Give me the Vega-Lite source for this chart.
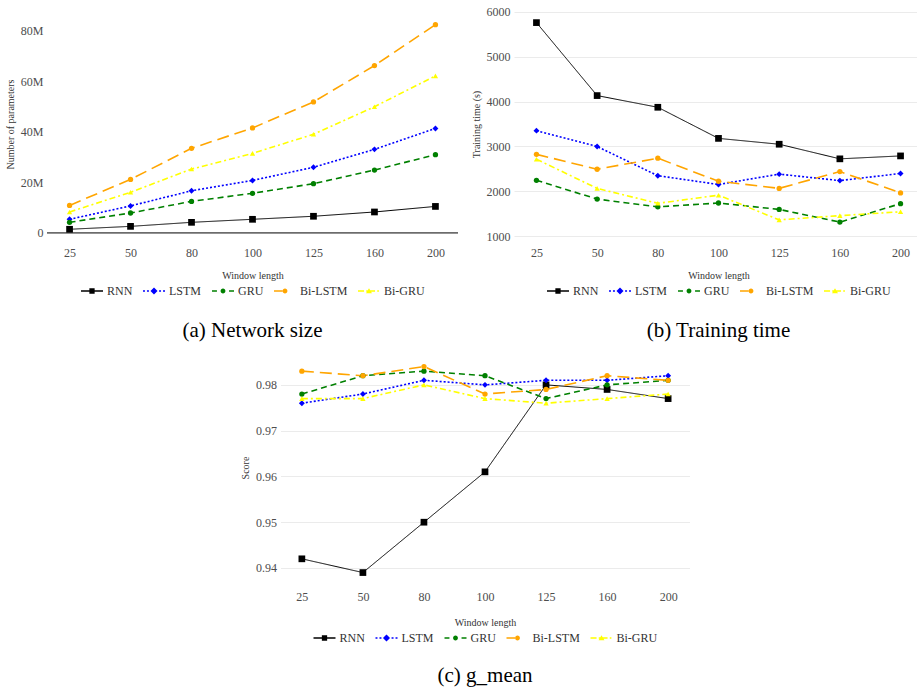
{
"$schema": "https://vega.github.io/schema/vega-lite/v6.json",
"background": "white",
"padding": 5,
"datasets": {
"size": [
{"w":25,"m":"RNN","v":1450000},{"w":50,"m":"RNN","v":2600000},{"w":80,"m":"RNN","v":4200000},{"w":100,"m":"RNN","v":5400000},{"w":125,"m":"RNN","v":6600000},{"w":160,"m":"RNN","v":8300000},{"w":200,"m":"RNN","v":10500000},
{"w":25,"m":"LSTM","v":5400000},{"w":50,"m":"LSTM","v":10700000},{"w":80,"m":"LSTM","v":16700000},{"w":100,"m":"LSTM","v":20800000},{"w":125,"m":"LSTM","v":26000000},{"w":160,"m":"LSTM","v":33100000},{"w":200,"m":"LSTM","v":41400000},
{"w":25,"m":"GRU","v":4200000},{"w":50,"m":"GRU","v":7900000},{"w":80,"m":"GRU","v":12500000},{"w":100,"m":"GRU","v":15700000},{"w":125,"m":"GRU","v":19500000},{"w":160,"m":"GRU","v":24900000},{"w":200,"m":"GRU","v":31000000},
{"w":25,"m":"Bi-LSTM","v":10900000},{"w":50,"m":"Bi-LSTM","v":21200000},{"w":80,"m":"Bi-LSTM","v":33500000},{"w":100,"m":"Bi-LSTM","v":41600000},{"w":125,"m":"Bi-LSTM","v":51900000},{"w":160,"m":"Bi-LSTM","v":66300000},{"w":200,"m":"Bi-LSTM","v":82500000},
{"w":25,"m":"Bi-GRU","v":8300000},{"w":50,"m":"Bi-GRU","v":16100000},{"w":80,"m":"Bi-GRU","v":25300000},{"w":100,"m":"Bi-GRU","v":31500000},{"w":125,"m":"Bi-GRU","v":39100000},{"w":160,"m":"Bi-GRU","v":50000000},{"w":200,"m":"Bi-GRU","v":62200000}
],
"time": [
{"w":25,"m":"RNN","v":5755},{"w":50,"m":"RNN","v":4132},{"w":80,"m":"RNN","v":3872},{"w":100,"m":"RNN","v":3180},{"w":125,"m":"RNN","v":3050},{"w":160,"m":"RNN","v":2725},{"w":200,"m":"RNN","v":2790},
{"w":25,"m":"LSTM","v":3352},{"w":50,"m":"LSTM","v":2999},{"w":80,"m":"LSTM","v":2350},{"w":100,"m":"LSTM","v":2155},{"w":125,"m":"LSTM","v":2385},{"w":160,"m":"LSTM","v":2241},{"w":200,"m":"LSTM","v":2400},
{"w":25,"m":"GRU","v":2248},{"w":50,"m":"GRU","v":1830},{"w":80,"m":"GRU","v":1657},{"w":100,"m":"GRU","v":1743},{"w":125,"m":"GRU","v":1600},{"w":160,"m":"GRU","v":1318},{"w":200,"m":"GRU","v":1729},
{"w":25,"m":"Bi-LSTM","v":2825},{"w":50,"m":"Bi-LSTM","v":2494},{"w":80,"m":"Bi-LSTM","v":2739},{"w":100,"m":"Bi-LSTM","v":2227},{"w":125,"m":"Bi-LSTM","v":2068},{"w":160,"m":"Bi-LSTM","v":2443},{"w":200,"m":"Bi-LSTM","v":1967},
{"w":25,"m":"Bi-GRU","v":2717},{"w":50,"m":"Bi-GRU","v":2068},{"w":80,"m":"Bi-GRU","v":1736},{"w":100,"m":"Bi-GRU","v":1916},{"w":125,"m":"Bi-GRU","v":1368},{"w":160,"m":"Bi-GRU","v":1462},{"w":200,"m":"Bi-GRU","v":1548}
],
"gmean": [
{"w":25,"m":"RNN","v":0.942},{"w":50,"m":"RNN","v":0.939},{"w":80,"m":"RNN","v":0.950},{"w":100,"m":"RNN","v":0.961},{"w":125,"m":"RNN","v":0.980},{"w":160,"m":"RNN","v":0.979},{"w":200,"m":"RNN","v":0.977},
{"w":25,"m":"LSTM","v":0.976},{"w":50,"m":"LSTM","v":0.978},{"w":80,"m":"LSTM","v":0.981},{"w":100,"m":"LSTM","v":0.980},{"w":125,"m":"LSTM","v":0.981},{"w":160,"m":"LSTM","v":0.981},{"w":200,"m":"LSTM","v":0.982},
{"w":25,"m":"GRU","v":0.978},{"w":50,"m":"GRU","v":0.982},{"w":80,"m":"GRU","v":0.983},{"w":100,"m":"GRU","v":0.982},{"w":125,"m":"GRU","v":0.977},{"w":160,"m":"GRU","v":0.980},{"w":200,"m":"GRU","v":0.981},
{"w":25,"m":"Bi-LSTM","v":0.983},{"w":50,"m":"Bi-LSTM","v":0.982},{"w":80,"m":"Bi-LSTM","v":0.984},{"w":100,"m":"Bi-LSTM","v":0.978},{"w":125,"m":"Bi-LSTM","v":0.979},{"w":160,"m":"Bi-LSTM","v":0.982},{"w":200,"m":"Bi-LSTM","v":0.981},
{"w":25,"m":"Bi-GRU","v":0.977},{"w":50,"m":"Bi-GRU","v":0.977},{"w":80,"m":"Bi-GRU","v":0.980},{"w":100,"m":"Bi-GRU","v":0.977},{"w":125,"m":"Bi-GRU","v":0.976},{"w":160,"m":"Bi-GRU","v":0.977},{"w":200,"m":"Bi-GRU","v":0.978}
]
},
"center": true,
"spacing": 10,
"resolve": {"scale": {"color": "independent", "strokeDash": "independent"}, "legend": {"color": "independent"}},
"vconcat": [
{
"spacing": 12,
"resolve": {"scale": {"color": "independent", "strokeDash": "independent"}, "legend": {"color": "independent"}},
"hconcat": [
{
"width": 411, "height": 232,
"title": {"text": "(a) Network size", "orient": "bottom", "fontSize": 21, "fontWeight": "normal", "color": "black", "offset": 23, "anchor": "middle"},
"data": {"name": "size"},
"layer": [
{"data": {"values": [{}]}, "mark": {"type": "rule", "color": "black", "strokeWidth": 1}, "encoding": {"y": {"datum": 0, "type": "quantitative"}}},
{"mark": {"type": "line"},
 "encoding": {
  "x": {"field": "w", "type": "ordinal", "scale": {"type": "point", "padding": 0.37}, "axis": {"title": "Window length"}},
  "y": {"field": "v", "type": "quantitative", "scale": {"domain": [-2800000, 89100000], "nice": false, "zero": false}, "axis": {"title": "Number of parameters", "values": [0, 20000000, 40000000, 60000000, 80000000], "labelExpr": "datum.value==0?'0':(datum.value/1000000)+'M'"}},
  "color": {"field": "m", "type": "nominal", "scale": {"domain": ["RNN","LSTM","GRU","Bi-LSTM","Bi-GRU"], "range": ["black","blue","green","orange","yellow"]},
   "legend": {"title": null, "orient": "bottom", "direction": "horizontal", "symbolSize": 484, "labelFontSize": 12, "columnPadding": 10, "offset": 0,
    "encode": {"symbols": {"update": {
     "shape": {"signal": "datum.value==='RNN'?'M-1,-0.07L1,-0.07L1,0.07L-1,0.07ZM-0.24,-0.24L0.24,-0.24L0.24,0.24L-0.24,0.24Z':datum.value==='LSTM'?'M-1,-0.07L-0.82,-0.07L-0.82,0.07L-1,0.07ZM-0.64,-0.07L-0.46,-0.07L-0.46,0.07L-0.64,0.07ZM0.46,-0.07L0.64,-0.07L0.64,0.07L0.46,0.07ZM0.82,-0.07L1,-0.07L1,0.07L0.82,0.07ZM0,-0.32L0.32,0L0,0.32L-0.32,0Z':datum.value==='GRU'?'M-1,-0.07L-0.55,-0.07L-0.55,0.07L-1,0.07ZM0.55,-0.07L1,-0.07L1,0.07L0.55,0.07ZM-0.22,0A0.22,0.22,0,1,0,0.22,0A0.22,0.22,0,1,0,-0.22,0Z':datum.value==='Bi-LSTM'?'M-1,-0.07L-0.2,-0.07L-0.2,0.07L-1,0.07ZM-0.22,0A0.22,0.22,0,1,0,0.22,0A0.22,0.22,0,1,0,-0.22,0Z':'M-1,-0.07L-0.45,-0.07L-0.45,0.07L-1,0.07ZM-0.25,-0.07L0.55,-0.07L0.55,0.07L-0.25,0.07ZM0.75,-0.07L0.9,-0.07L0.9,0.07L0.75,0.07ZM0,-0.26L0.27,0.2L-0.27,0.2Z'"},
     "fill": {"signal": "datum.value==='RNN'?'black':datum.value==='LSTM'?'blue':datum.value==='GRU'?'green':datum.value==='Bi-LSTM'?'orange':'yellow'"},
     "fillOpacity": {"value": 1},
     "strokeWidth": {"value": 0},
     "opacity": {"value": 1}}}}}},
  "strokeDash": {"field": "m", "type": "nominal", "scale": {"domain": ["RNN","LSTM","GRU","Bi-LSTM","Bi-GRU"], "range": [[1,0],[2,2],[6,4],[12,6],[6,3,2,3]]}, "legend": null},
  "strokeWidth": {"condition": {"test": "datum.m==='RNN'", "value": 1}, "value": 1.6}
 }},
{"mark": {"type": "point", "filled": true, "opacity": 1},
 "encoding": {
  "x": {"field": "w", "type": "ordinal"},
  "y": {"field": "v", "type": "quantitative"},
  "color": {"field": "m", "type": "nominal", "legend": null},
  "shape": {"condition": [{"test": "datum.m==='RNN'", "value": "square"}, {"test": "datum.m==='LSTM'", "value": "diamond"}, {"test": "datum.m==='Bi-GRU'", "value": "triangle-up"}], "value": "circle"},
  "size": {"condition": [{"test": "datum.m==='RNN'", "value": 45}, {"test": "datum.m==='LSTM'", "value": 35}], "value": 28}
 }}
]
},
{
"width": 409, "height": 232,
"title": {"text": "(b) Training time", "orient": "bottom", "fontSize": 21, "fontWeight": "normal", "color": "black", "offset": 23, "anchor": "middle"},
"data": {"name": "time"},
"layer": [
{"mark": {"type": "line"},
 "encoding": {
  "x": {"field": "w", "type": "ordinal", "scale": {"type": "point", "padding": 0.37}, "axis": {"title": "Window length"}},
  "y": {"field": "v", "type": "quantitative", "scale": {"domain": [920, 6080], "nice": false, "zero": false}, "axis": {"title": "Training time (s)", "values": [1000,2000,3000,4000,5000,6000], "format": "d"}},
  "color": {"field": "m", "type": "nominal", "scale": {"domain": ["RNN","LSTM","GRU","Bi-LSTM","Bi-GRU"], "range": ["black","blue","green","orange","yellow"]},
   "legend": {"title": null, "orient": "bottom", "direction": "horizontal", "symbolSize": 484, "labelFontSize": 12, "columnPadding": 10, "offset": 0,
    "encode": {"symbols": {"update": {
     "shape": {"signal": "datum.value==='RNN'?'M-1,-0.07L1,-0.07L1,0.07L-1,0.07ZM-0.24,-0.24L0.24,-0.24L0.24,0.24L-0.24,0.24Z':datum.value==='LSTM'?'M-1,-0.07L-0.82,-0.07L-0.82,0.07L-1,0.07ZM-0.64,-0.07L-0.46,-0.07L-0.46,0.07L-0.64,0.07ZM0.46,-0.07L0.64,-0.07L0.64,0.07L0.46,0.07ZM0.82,-0.07L1,-0.07L1,0.07L0.82,0.07ZM0,-0.32L0.32,0L0,0.32L-0.32,0Z':datum.value==='GRU'?'M-1,-0.07L-0.55,-0.07L-0.55,0.07L-1,0.07ZM0.55,-0.07L1,-0.07L1,0.07L0.55,0.07ZM-0.22,0A0.22,0.22,0,1,0,0.22,0A0.22,0.22,0,1,0,-0.22,0Z':datum.value==='Bi-LSTM'?'M-1,-0.07L-0.2,-0.07L-0.2,0.07L-1,0.07ZM-0.22,0A0.22,0.22,0,1,0,0.22,0A0.22,0.22,0,1,0,-0.22,0Z':'M-1,-0.07L-0.45,-0.07L-0.45,0.07L-1,0.07ZM-0.25,-0.07L0.55,-0.07L0.55,0.07L-0.25,0.07ZM0.75,-0.07L0.9,-0.07L0.9,0.07L0.75,0.07ZM0,-0.26L0.27,0.2L-0.27,0.2Z'"},
     "fill": {"signal": "datum.value==='RNN'?'black':datum.value==='LSTM'?'blue':datum.value==='GRU'?'green':datum.value==='Bi-LSTM'?'orange':'yellow'"},
     "fillOpacity": {"value": 1},
     "strokeWidth": {"value": 0},
     "opacity": {"value": 1}}}}}},
  "strokeDash": {"field": "m", "type": "nominal", "scale": {"domain": ["RNN","LSTM","GRU","Bi-LSTM","Bi-GRU"], "range": [[1,0],[2,2],[6,4],[12,6],[6,3,2,3]]}, "legend": null},
  "strokeWidth": {"condition": {"test": "datum.m==='RNN'", "value": 1}, "value": 1.6}
 }},
{"mark": {"type": "point", "filled": true, "opacity": 1},
 "encoding": {
  "x": {"field": "w", "type": "ordinal"},
  "y": {"field": "v", "type": "quantitative"},
  "color": {"field": "m", "type": "nominal", "legend": null},
  "shape": {"condition": [{"test": "datum.m==='RNN'", "value": "square"}, {"test": "datum.m==='LSTM'", "value": "diamond"}, {"test": "datum.m==='Bi-GRU'", "value": "triangle-up"}], "value": "circle"},
  "size": {"condition": [{"test": "datum.m==='RNN'", "value": 45}, {"test": "datum.m==='LSTM'", "value": 35}], "value": 28}
 }}
]
}
]
},
{
"width": 409, "height": 233,
"title": {"text": "(c) g_mean", "orient": "bottom", "fontSize": 21, "fontWeight": "normal", "color": "black", "offset": 21, "anchor": "middle"},
"data": {"name": "gmean"},
"layer": [
{"mark": {"type": "line"},
 "encoding": {
  "x": {"field": "w", "type": "ordinal", "scale": {"type": "point", "padding": 0.35}, "axis": {"title": "Window length", "titlePadding": 15}},
  "y": {"field": "v", "type": "quantitative", "scale": {"domain": [0.9365, 0.9874], "nice": false, "zero": false}, "axis": {"title": "Score", "values": [0.94,0.95,0.96,0.97,0.98], "format": ".2f"}},
  "color": {"field": "m", "type": "nominal", "scale": {"domain": ["RNN","LSTM","GRU","Bi-LSTM","Bi-GRU"], "range": ["black","blue","green","orange","yellow"]},
   "legend": {"title": null, "orient": "bottom", "direction": "horizontal", "symbolSize": 484, "labelFontSize": 12, "columnPadding": 10, "offset": 0,
    "encode": {"symbols": {"update": {
     "shape": {"signal": "datum.value==='RNN'?'M-1,-0.07L1,-0.07L1,0.07L-1,0.07ZM-0.24,-0.24L0.24,-0.24L0.24,0.24L-0.24,0.24Z':datum.value==='LSTM'?'M-1,-0.07L-0.82,-0.07L-0.82,0.07L-1,0.07ZM-0.64,-0.07L-0.46,-0.07L-0.46,0.07L-0.64,0.07ZM0.46,-0.07L0.64,-0.07L0.64,0.07L0.46,0.07ZM0.82,-0.07L1,-0.07L1,0.07L0.82,0.07ZM0,-0.32L0.32,0L0,0.32L-0.32,0Z':datum.value==='GRU'?'M-1,-0.07L-0.55,-0.07L-0.55,0.07L-1,0.07ZM0.55,-0.07L1,-0.07L1,0.07L0.55,0.07ZM-0.22,0A0.22,0.22,0,1,0,0.22,0A0.22,0.22,0,1,0,-0.22,0Z':datum.value==='Bi-LSTM'?'M-1,-0.07L-0.2,-0.07L-0.2,0.07L-1,0.07ZM-0.22,0A0.22,0.22,0,1,0,0.22,0A0.22,0.22,0,1,0,-0.22,0Z':'M-1,-0.07L-0.45,-0.07L-0.45,0.07L-1,0.07ZM-0.25,-0.07L0.55,-0.07L0.55,0.07L-0.25,0.07ZM0.75,-0.07L0.9,-0.07L0.9,0.07L0.75,0.07ZM0,-0.26L0.27,0.2L-0.27,0.2Z'"},
     "fill": {"signal": "datum.value==='RNN'?'black':datum.value==='LSTM'?'blue':datum.value==='GRU'?'green':datum.value==='Bi-LSTM'?'orange':'yellow'"},
     "fillOpacity": {"value": 1},
     "strokeWidth": {"value": 0},
     "opacity": {"value": 1}}}}}},
  "strokeDash": {"field": "m", "type": "nominal", "scale": {"domain": ["RNN","LSTM","GRU","Bi-LSTM","Bi-GRU"], "range": [[1,0],[2,2],[6,4],[12,6],[6,3,2,3]]}, "legend": null},
  "strokeWidth": {"condition": {"test": "datum.m==='RNN'", "value": 1}, "value": 1.6}
 }},
{"mark": {"type": "point", "filled": true, "opacity": 1},
 "encoding": {
  "x": {"field": "w", "type": "ordinal"},
  "y": {"field": "v", "type": "quantitative"},
  "color": {"field": "m", "type": "nominal", "legend": null},
  "shape": {"condition": [{"test": "datum.m==='RNN'", "value": "square"}, {"test": "datum.m==='LSTM'", "value": "diamond"}, {"test": "datum.m==='Bi-GRU'", "value": "triangle-up"}], "value": "circle"},
  "size": {"condition": [{"test": "datum.m==='RNN'", "value": 45}, {"test": "datum.m==='LSTM'", "value": 35}], "value": 28}
 }}
]
}
],
"config": {
 "font": "Liberation Serif, Times New Roman, serif",
 "title": {"font": "Liberation Serif, Times New Roman, serif"},
 "view": {"stroke": null},
 "axis": {"domain": false, "ticks": false, "gridColor": "#ebebeb", "gridWidth": 1, "labelColor": "#4d4d4d", "labelFontSize": 12, "titleFontSize": 10, "titleFontWeight": "normal", "titleColor": "#333333", "labelFont": "Liberation Serif, Times New Roman, serif", "titleFont": "Liberation Serif, Times New Roman, serif"},
 "axisX": {"labelPadding": 7, "titlePadding": 12, "labelAngle": 0},
 "axisY": {"labelPadding": 4, "titlePadding": 5},
 "legend": {"labelFont": "Liberation Serif, Times New Roman, serif", "labelColor": "#333333", "layout": {"bottom": {"anchor": "middle"}}}
}
}
